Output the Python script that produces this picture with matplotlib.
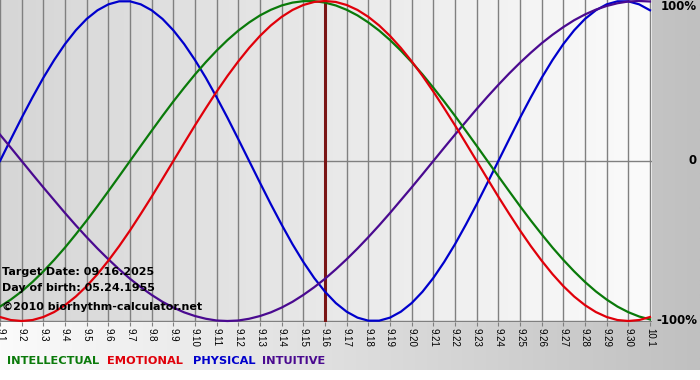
import numpy as np
import matplotlib
matplotlib.use("Agg")
import matplotlib.pyplot as plt
from matplotlib.colors import LinearSegmentedColormap

# ---- data (fraction of 100%, read every half day) ----
days = ["9.1", "9.2", "9.3", "9.4", "9.5", "9.6", "9.7", "9.8", "9.9", "9.10",
        "9.11", "9.12", "9.13", "9.14", "9.15", "9.16", "9.17", "9.18", "9.19", "9.20",
        "9.21", "9.22", "9.23", "9.24", "9.25", "9.26", "9.27", "9.28", "9.29", "9.30", "10.1"]

physical = [0.000, 0.136, 0.270, 0.398, 0.520, 0.631, 0.731, 0.817, 0.888, 0.942,
            0.979, 0.998, 0.998, 0.979, 0.942, 0.888, 0.817, 0.731, 0.631, 0.520,
            0.398, 0.270, 0.136, 0.000, -0.136, -0.270, -0.398, -0.520, -0.631, -0.731,
            -0.817, -0.888, -0.942, -0.979, -0.998, -0.998, -0.979, -0.942, -0.888, -0.817,
            -0.731, -0.631, -0.520, -0.398, -0.270, -0.136, 0.000, 0.136, 0.270, 0.398,
            0.520, 0.631, 0.731, 0.817, 0.888, 0.942, 0.979, 0.998, 0.998, 0.979,
            0.942]

emotional = [-0.975, -0.994, -1.000, -0.994, -0.975, -0.944, -0.901, -0.847, -0.782, -0.707,
             -0.623, -0.532, -0.434, -0.330, -0.223, -0.112, 0.000, 0.112, 0.223, 0.330,
             0.434, 0.532, 0.623, 0.707, 0.782, 0.847, 0.901, 0.944, 0.975, 0.994,
             1.000, 0.994, 0.975, 0.944, 0.901, 0.847, 0.782, 0.707, 0.623, 0.532,
             0.434, 0.330, 0.223, 0.112, 0.000, -0.112, -0.223, -0.330, -0.434, -0.532,
             -0.623, -0.707, -0.782, -0.847, -0.901, -0.944, -0.975, -0.994, -1.000, -0.994,
             -0.975]

intellectual = [-0.910, -0.866, -0.815, -0.756, -0.690, -0.618, -0.541, -0.458, -0.372, -0.282,
                -0.189, -0.095, 0.000, 0.095, 0.189, 0.282, 0.372, 0.458, 0.541, 0.618,
                0.690, 0.756, 0.815, 0.866, 0.910, 0.945, 0.972, 0.990, 0.999, 0.999,
                0.990, 0.972, 0.945, 0.910, 0.866, 0.815, 0.756, 0.690, 0.618, 0.541,
                0.458, 0.372, 0.282, 0.189, 0.095, 0.000, -0.095, -0.189, -0.282, -0.372,
                -0.458, -0.541, -0.618, -0.690, -0.756, -0.815, -0.866, -0.910, -0.945, -0.972,
                -0.990]

intuitive = [0.165, 0.083, 0.000, -0.083, -0.165, -0.245, -0.325, -0.402, -0.476, -0.547,
             -0.614, -0.677, -0.736, -0.789, -0.837, -0.880, -0.916, -0.946, -0.969, -0.986,
             -0.997, -1.000, -0.997, -0.986, -0.969, -0.946, -0.916, -0.880, -0.837, -0.789,
             -0.736, -0.677, -0.614, -0.547, -0.476, -0.402, -0.325, -0.245, -0.165, -0.083,
             0.000, 0.083, 0.165, 0.245, 0.325, 0.402, 0.476, 0.547, 0.614, 0.677,
             0.736, 0.789, 0.837, 0.880, 0.916, 0.946, 0.969, 0.986, 0.997, 1.000,
             0.997]

target_day = "9.16"
legend_names = ["INTELLECTUAL", "EMOTIONAL", "PHYSICAL", "INTUITIVE"]
info_lines = ["Target Date: 09.16.2025", "Day of birth: 05.24.1955", "\u00a92010 biorhythm-calculator.net"]
y_labels = ["100%", "0", "-100%"]

C_INT = "#0a7a0a"
C_EMO = "#e0000a"
C_PHY = "#0000cc"
C_ITU = "#4a0a90"

W, H = 700, 380
fig = plt.figure(figsize=(W / 100, H / 100), dpi=100)
fig.patch.set_facecolor("white")

# background axes in pixel coordinates
bg = fig.add_axes([0, 0, 1, 1])
bg.set_xlim(0, W)
bg.set_ylim(H, 0)
bg.axis("off")
grad = np.linspace(0, 1, 256).reshape(1, -1)
cm_bg = LinearSegmentedColormap.from_list("bg", ["#fbfbfb", "#c0c0c0"])
bg.imshow(grad, cmap=cm_bg, extent=[0, W, 370, 0], aspect="auto", zorder=0)

# plot axes
px_left, px_right, px_top, px_bottom = 0, 652, 0, 322
ax = fig.add_axes([px_left / W, 1 - px_bottom / H, (px_right - px_left) / W, (px_bottom - px_top) / H])
ndays = len(days) - 1
xmax = ndays * (px_right - px_left) / 650
ylim = (-1.00625, 1.00625)
cm_pl = LinearSegmentedColormap.from_list("pl", ["#d6d6d6", "#fbfbfb"])
ax.imshow(grad, cmap=cm_pl, extent=[0, ndays, ylim[0], ylim[1]], aspect="auto", zorder=0)
ax.set_xlim(0, xmax)
ax.set_ylim(*ylim)
for s in ax.spines.values():
    s.set_visible(False)

x_days = np.arange(len(days))
x_samples = np.arange(len(physical)) * 0.5

for xi in x_days:
    ax.axvline(xi, color="#808080", lw=1.0, zorder=1)
ax.axhline(0, color="#808080", lw=1.0, zorder=1)
ax.axhline(-1, color="#808080", lw=1.0, zorder=1)

ax.axvline(days.index(target_day), color="#7a1515", lw=2.2, zorder=2)

lw = 1.6
ax.plot(x_samples, physical, color=C_PHY, lw=lw, zorder=3, clip_on=False)
ax.plot(x_samples, intuitive, color=C_ITU, lw=lw, zorder=3, clip_on=False)
ax.plot(x_samples, intellectual, color=C_INT, lw=lw, zorder=4, clip_on=False)
ax.plot(x_samples, emotional, color=C_EMO, lw=lw, zorder=4, clip_on=False)

ax.set_xticks(x_days)
ax.set_xticklabels(days, rotation=270, fontsize=7, family="Liberation Sans")
ax.tick_params(axis="x", length=3, color="#808080", pad=1)
ax.set_yticks([])

# info text
for t, ypix in zip(info_lines, [272, 288, 307]):
    fig.text(2 / W, 1 - ypix / H, t, fontsize=8, fontweight="bold", color="black",
             ha="left", va="center", family="DejaVu Sans", zorder=10)

# right labels
for lab, ypix in zip(y_labels, [7, 161, 321]):
    fig.text(697 / W, 1 - ypix / H, lab, fontsize=8.5, fontweight="bold", color="black",
             ha="right", va="center", family="DejaVu Sans")

# legend
for name, col, xpix in zip(legend_names, [C_INT, C_EMO, C_PHY, C_ITU], [7, 107, 193, 262]):
    fig.text(xpix / W, 1 - 361 / H, name, fontsize=8.2, fontweight="bold", color=col,
             ha="left", va="center", family="DejaVu Sans")

fig.savefig("out.png", dpi=100)
